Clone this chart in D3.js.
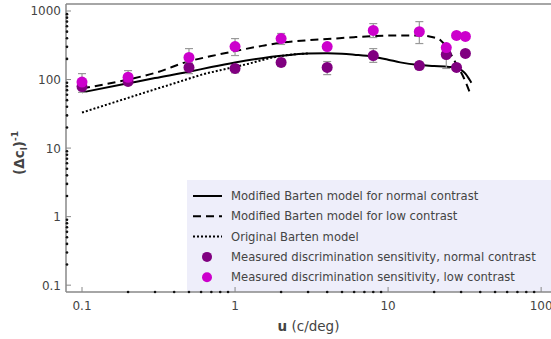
<!DOCTYPE html>
<html><head><meta charset="utf-8">
<script src="https://cdn.jsdelivr.net/npm/d3@7"></script>
<style>body{margin:0;background:#fff}svg{display:block;font-family:"DejaVu Sans",Verdana,sans-serif}</style>
</head><body><svg id="c" width="551" height="339"></svg>
<script>
// Data
const uPoints = [0.1, 0.2, 0.5, 1, 2, 4, 8, 16, 24, 28, 32];
const normalVals = [79, 94, 150, 145, 178, 150, 224, 160, 232, 150, 240];
const normalLo   = [65, 84, 122, 125, 155, 118, 178, 140, 145, null, null];
const normalHi   = [95, 105, 180, 165, 200, 183, 283, 180, 290, null, null];
const lowVals = [92, 108, 210, 303, 396, 303, 520, 500, 293, 440, 425];
const lowLo   = [78, 92, 170, 224, 325, null, 410, 335, null, null, null];
const lowHi   = [122, 135, 283, 396, 470, null, 655, 700, null, null, null];

const solidU = [0.1, 0.2, 0.3, 0.5, 0.7, 1, 1.5, 2, 3, 4, 5, 6, 8, 10, 12, 16, 20, 25, 28, 30, 32, 34, 35];
const solidV = [65, 88, 105, 130, 152, 177, 205, 222, 240, 242, 238, 230, 215, 195, 178, 163, 158, 153, 148, 138, 122, 100, 90];
const dashU = [0.1, 0.2, 0.3, 0.5, 0.7, 1, 1.5, 2, 3, 4, 6, 8, 12, 16, 20, 22, 25, 28, 31, 34];
const dashV = [74, 100, 125, 185, 220, 260, 310, 345, 375, 390, 415, 430, 440, 440, 410, 375, 260, 165, 110, 67];
const dotU = [0.1, 0.2, 0.3, 0.44, 0.6, 0.8, 1, 1.2, 1.5, 1.8, 2.2, 3];
const dotV = [33, 54, 72, 94, 117, 137, 153, 168, 192, 212, 228, 240];

const xTicks = [0.1, 1, 10, 100];
const yTicks = [0.1, 1, 10, 100, 1000];
const legendLabels = ["Modified Barten model for normal contrast", "Modified Barten model for low contrast", "Original Barten model", "Measured discrimination sensitivity, normal contrast", "Measured discrimination sensitivity, low contrast"];

const svg = d3.select("#c");
const L = 66, R = 551, T = 4, B = 292;
const x = d3.scaleLog().domain([0.0786, 116]).range([L, R]);
const y = d3.scaleLog().domain([0.0795, 1265]).range([B, T]);
const axisCol = "#888", textCol = "#444";
const cNorm = "#800080", cLow = "#cc00cc";

// legend background
svg.append("rect").attr("x", 187).attr("y", 180).attr("width", R - 187).attr("height", B - 180).attr("fill", "#eeeefa");

// frame
svg.append("line").attr("x1", L).attr("x2", R).attr("y1", T).attr("y2", T).attr("stroke", axisCol).attr("stroke-width", 1.5);
svg.append("line").attr("x1", L).attr("x2", L).attr("y1", T).attr("y2", B).attr("stroke", axisCol).attr("stroke-width", 1.5);
svg.append("line").attr("x1", L).attr("x2", R).attr("y1", B).attr("y2", B).attr("stroke", axisCol).attr("stroke-width", 1.5);

// major ticks
xTicks.forEach(t => {
  svg.append("line").attr("x1", x(t)).attr("x2", x(t)).attr("y1", B).attr("y2", B - 5).attr("stroke", axisCol).attr("stroke-width", 1);
  svg.append("text").attr("x", x(t)).attr("y", B + 18).attr("text-anchor", "middle").attr("font-size", 12).attr("fill", textCol).text(d3.format("~g")(t));
});
yTicks.forEach(t => {
  svg.append("line").attr("x1", L).attr("x2", L + 5).attr("y1", y(t)).attr("y2", y(t)).attr("stroke", axisCol).attr("stroke-width", 1);
  svg.append("text").attr("x", L - 5).attr("y", y(t) + 4.5).attr("text-anchor", "end").attr("font-size", 12).attr("fill", textCol).text(d3.format("~g")(t));
});
// minor dots
const minX = [], minY = [];
[0.1, 1, 10].forEach(d => { for (let k = 2; k <= 9; k++) minX.push(d * k); });
[0.1, 1, 10, 100].forEach(d => { for (let k = 2; k <= 9; k++) minY.push(d * k); });
svg.selectAll(".mx").data(minX).enter().append("circle").attr("cx", d => x(d)).attr("cy", B).attr("r", 1.3).attr("fill", "#111");
svg.selectAll(".my").data(minY).enter().append("circle").attr("cx", L + 1).attr("cy", d => y(d)).attr("r", 1.3).attr("fill", "#111");

// curves
const line = d3.line().x(d => x(d[0])).y(d => y(d[1])).curve(d3.curveMonotoneX);
const path = (us, vs, dash) => svg.append("path").attr("d", line(us.map((u, i) => [u, vs[i]])))
  .attr("fill", "none").attr("stroke", "#000").attr("stroke-width", 2).attr("stroke-dasharray", dash);
path(dotU, dotV, "2,2");
path(dashU, dashV, "8,5");
path(solidU, solidV, null);

// error bars
function errs(lo, hi) {
  uPoints.forEach((u, i) => {
    if (lo[i] == null) return;
    const g = svg.append("g").attr("stroke", "#999").attr("stroke-width", 1.2);
    g.append("line").attr("x1", x(u)).attr("x2", x(u)).attr("y1", y(lo[i])).attr("y2", y(hi[i]));
    g.append("line").attr("x1", x(u) - 4).attr("x2", x(u) + 4).attr("y1", y(lo[i])).attr("y2", y(lo[i]));
    g.append("line").attr("x1", x(u) - 4).attr("x2", x(u) + 4).attr("y1", y(hi[i])).attr("y2", y(hi[i]));
  });
}
errs(normalLo, normalHi);
errs(lowLo, lowHi);
svg.selectAll(".pn").data(uPoints).enter().append("circle").attr("cx", d => x(d)).attr("cy", (d, i) => y(normalVals[i])).attr("r", 5.5).attr("fill", cNorm);
svg.selectAll(".pl").data(uPoints).enter().append("circle").attr("cx", d => x(d)).attr("cy", (d, i) => y(lowVals[i])).attr("r", 5.5).attr("fill", cLow);

// legend
const ly0 = 196, ldy = 20.3;
legendLabels.forEach((lab, i) => {
  const yy = ly0 + i * ldy;
  if (i < 3) {
    svg.append("line").attr("x1", 193).attr("x2", 222).attr("y1", yy).attr("y2", yy).attr("stroke", "#000").attr("stroke-width", 2)
      .attr("stroke-dasharray", i === 1 ? "8,5" : i === 2 ? "2,2" : null);
  } else {
    svg.append("circle").attr("cx", 207).attr("cy", yy).attr("r", 5).attr("fill", i === 3 ? cNorm : cLow);
  }
  svg.append("text").attr("x", 231).attr("y", yy + 4).attr("font-size", 11.6).attr("fill", textCol).text(lab);
});

// axis titles
const xt = svg.append("text").attr("x", (L + R) / 2).attr("y", 331).attr("text-anchor", "middle").attr("font-size", 13.5).attr("fill", textCol);
xt.append("tspan").attr("font-weight", "bold").text("u");
xt.append("tspan").text(" (c/deg)");
const yt = svg.append("text").attr("transform", "translate(24,153) rotate(-90)").attr("text-anchor", "middle").attr("font-size", 13.5).attr("font-weight", "bold").attr("fill", textCol);
yt.append("tspan").text("(Δc");
yt.append("tspan").attr("font-size", 9).attr("dy", 3).text("l");
yt.append("tspan").attr("dy", -3).text(")");
yt.append("tspan").attr("font-size", 9).attr("dy", -6).text("-1");
</script></body></html>
